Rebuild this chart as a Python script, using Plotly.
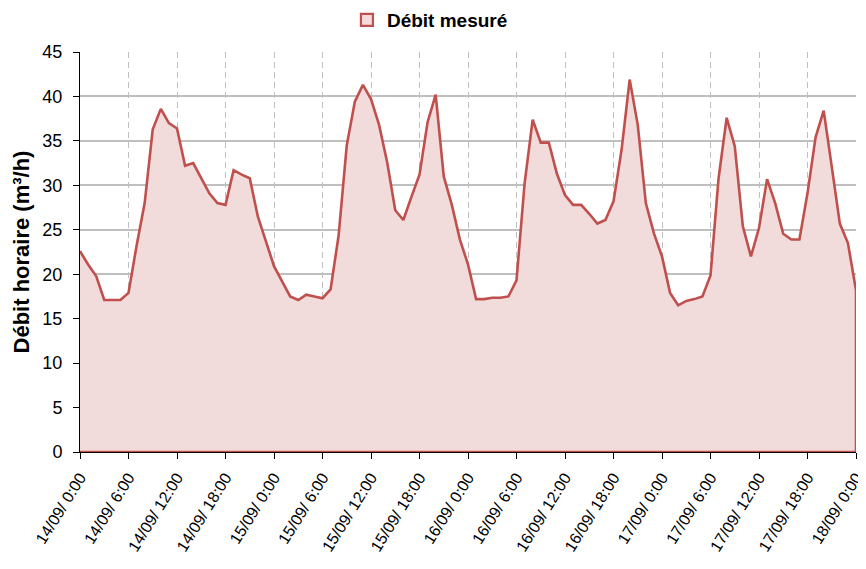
import plotly.graph_objects as go

# Hourly timestamps (hours since 14/09 0:00)
hours = list(range(97))

debit = [
    22.6, 21.1, 19.8, 17.1, 17.1, 17.1, 17.9, 23.2, 28.0, 36.3,
    38.6, 37.0, 36.4, 32.2, 32.5, 30.8, 29.1, 28.0, 27.8, 31.7,
    31.2, 30.8, 26.5, 23.7, 20.9, 19.2, 17.5, 17.1, 17.7, 17.5,
    17.3, 18.3, 24.4, 34.5, 39.4, 41.3, 39.7, 36.8, 32.6, 27.2,
    26.1, 28.7, 31.2, 37.1, 40.2, 31.0, 27.8, 23.9, 21.1, 17.2,
    17.2, 17.35, 17.35, 17.5, 19.3, 30.2, 37.4, 34.8, 34.8, 31.3,
    28.9, 27.8, 27.8, 26.8, 25.7, 26.1, 28.2, 34.0, 41.9, 36.8,
    28.0, 24.6, 22.0, 17.9, 16.5, 17.0, 17.2, 17.5, 19.85, 30.8,
    37.6, 34.4, 25.4, 22.0, 25.2, 30.7, 28.0, 24.55, 23.9, 23.9,
    29.1, 35.4, 38.4, 32.1, 25.7, 23.5, 18.2,
]

tick_hours = list(range(0, 97, 6))
tick_labels = [
    "14/09/ 0:00", "14/09/ 6:00", "14/09/ 12:00", "14/09/ 18:00",
    "15/09/ 0:00", "15/09/ 6:00", "15/09/ 12:00", "15/09/ 18:00",
    "16/09/ 0:00", "16/09/ 6:00", "16/09/ 12:00", "16/09/ 18:00",
    "17/09/ 0:00", "17/09/ 6:00", "17/09/ 12:00", "17/09/ 18:00",
    "18/09/ 0:00",
]

series_name = "Débit mesuré"
y_title = "Débit horaire (m³/h)"

LINE = "#C0504D"
FILL = "#F2DCDB"
GRID = "#BFBFBF"
FONT = "Liberation Sans, Arial, sans-serif"

# closed area outline (Excel draws border around the whole area incl. baseline)
xs = hours + [hours[-1], hours[0]]
ys = debit + [0, 0]

fig = go.Figure()
fig.add_trace(go.Scatter(
    x=xs, y=ys, mode="lines", fill="toself", fillcolor=FILL,
    line=dict(color=LINE, width=2.6), showlegend=False, hoverinfo="skip",
))
fig.add_trace(go.Scatter(
    x=[None], y=[None], mode="markers", name=series_name,
    marker=dict(symbol="square", size=12, color=FILL,
                line=dict(color=LINE, width=2.2)),
))

fig.update_layout(
    width=850, height=547,
    margin=dict(l=72, r=2, t=44, b=103, autoexpand=False),
    plot_bgcolor="white", paper_bgcolor="white",
    font=dict(family=FONT, color="#000000", size=17),
    showlegend=True,
    legend=dict(
        orientation="h", x=0.344, xanchor="left", y=1.08, yanchor="middle",
        font=dict(family=FONT, size=19, color="#000000", weight="bold"),
        itemwidth=30, bgcolor="rgba(0,0,0,0)", tracegroupgap=0,
    ),
    xaxis=dict(
        range=[0, 96], tickmode="array", tickvals=tick_hours, ticktext=tick_labels,
        tickangle=-58, ticks="outside", ticklen=6, tickcolor="#000000", tickwidth=1,
        ticklabelstandoff=3, ticklabeloverflow="allow",
        showline=True, linecolor="#000000", linewidth=1, automargin=False,
        showgrid=True, gridcolor=GRID, gridwidth=1.3, griddash="6px,4px",
        zeroline=False, tickfont=dict(size=16, family=FONT),
    ),
    yaxis=dict(
        range=[0, 45], dtick=5, tick0=0, ticks="outside", ticklen=6,
        tickcolor="#000000", tickwidth=1, ticklabelstandoff=7, automargin=False,
        showline=True, linecolor="#000000", linewidth=1,
        showgrid=True, gridcolor=GRID, gridwidth=1.5, zeroline=False,
        tickfont=dict(size=18, family=FONT),
        title=dict(text=y_title, standoff=6,
                   font=dict(size=22, family=FONT, weight="bold")),
    ),
)

fig.write_html("out.html")
